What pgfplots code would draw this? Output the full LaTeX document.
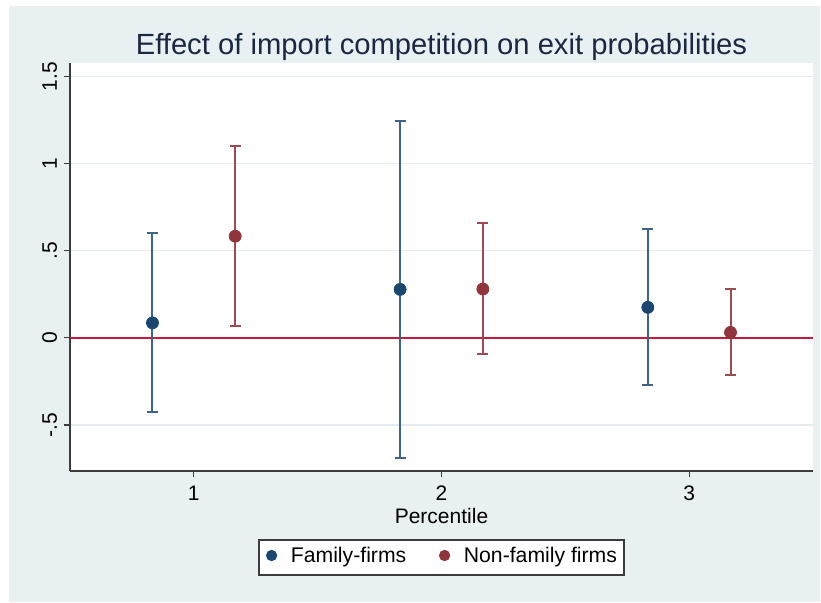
\documentclass[border=0pt]{standalone}
\usepackage{pgfplots}
\pgfplotsset{compat=1.18}
\usepackage{pgfplotstable}
\usepackage{fontspec}
\setmainfont{Liberation Sans}
\definecolor{bgcol}{RGB}{232,240,242}
\definecolor{gridcol}{RGB}{228,236,239}
\definecolor{famblue}{RGB}{26,71,111}
\definecolor{famci}{RGB}{62,100,138}
\definecolor{nonred}{RGB}{144,53,59}
\definecolor{nonci}{RGB}{158,74,80}
\definecolor{zerocol}{RGB}{200,25,60}
\definecolor{titlecol}{RGB}{28,40,65}
\definecolor{axcol}{RGB}{60,60,60}

\pgfplotstableread{
x y lo hi
0.833 0.086 -0.425 0.600
1.833 0.278 -0.687 1.247
2.833 0.175 -0.268 0.623
}\famtab

\pgfplotstableread{
x y lo hi
1.167 0.583 0.067 1.103
2.167 0.280 -0.095 0.657
3.167 0.031 -0.216 0.282
}\nontab

\begin{document}
\begin{tikzpicture}
\useasboundingbox (0bp,0bp) rectangle (410.5bp,301.5bp);
\fill[white] (0bp,0bp) rectangle (410.5bp,301.5bp);
\fill[bgcol] (4.5bp,0.5bp) rectangle (410bp,298.5bp);
\begin{axis}[
  at={(35bp,66bp)}, anchor=south west,
  scale only axis, width=371.5bp, height=204bp,
  xmin=0.5, xmax=3.5, ymin=-0.764, ymax=1.577,
  clip=false,
  axis background/.style={fill=white},
  axis x line*=bottom, axis y line*=left,
  axis line style={color=axcol, line width=0.6bp},
  xtick={1,2,3},
  ytick={-0.5,0,0.5,1,1.5},
  yticklabels={-.5,0,.5,1,1.5},
  tick align=outside,
  major tick length=3bp,
  major tick style={color=axcol, line width=0.6bp},
  /pgf/number format/assume math mode=true,
  tick label style={font=\fontsize{10.5bp}{12bp}\selectfont, color=black},
  yticklabel style={rotate=90, anchor=south},
  xticklabel style={yshift=-1bp},
  ymajorgrids,
  major grid style={color=gridcol, line width=0.8bp},
  xlabel={Percentile},
  xlabel style={at={(axis description cs:0.5,-0.1275)}, anchor=base, font=\fontsize{10.5bp}{12bp}\selectfont},
  legend columns=2,
  legend cell align=left,
  legend style={at={(axis description cs:0.5,-0.212)}, anchor=center,
    draw=axcol, line width=0.6bp, fill=white,
    font=\fontsize{10.6bp}{12bp}\selectfont,
    inner xsep=3.5bp, inner ysep=3.8bp,
    nodes={inner sep=0pt, text height=0.75em, text depth=0.25em},
    /tikz/every odd column/.append style={column sep=6.85bp},
    /tikz/every even column/.append style={column sep=16.35bp}},
]
\node[anchor=base, font=\fontsize{14.6bp}{17bp}\selectfont, color=titlecol, inner sep=0pt]
  at (axis description cs:0.5,1.0196) {Effect of import competition on exit probabilities};

\addplot[forget plot, color=zerocol, line width=1bp] coordinates {(0.5,0) (3.5,0)};

\addplot[forget plot, only marks, mark=*, mark size=3bp, mark options={fill=famblue, draw=famblue},
  error bars/.cd, y dir=both, y explicit, error mark=|,
  error bar style={line width=1bp, color=famci},
  error mark options={line width=1bp, color=famci, mark size=2.75bp}]
  table[x=x, y=y, y error plus expr=\thisrow{hi}-\thisrow{y}, y error minus expr=\thisrow{y}-\thisrow{lo}] {\famtab};

\addplot[forget plot, only marks, mark=*, mark size=3bp, mark options={fill=nonred, draw=nonred},
  error bars/.cd, y dir=both, y explicit, error mark=|,
  error bar style={line width=1bp, color=nonci},
  error mark options={line width=1bp, color=nonci, mark size=2.75bp}]
  table[x=x, y=y, y error plus expr=\thisrow{hi}-\thisrow{y}, y error minus expr=\thisrow{y}-\thisrow{lo}] {\nontab};

\addlegendimage{legend image code/.code={\fill[famblue] (0bp,1bp) circle (2.5bp);}}
\addlegendentry{Family-firms}
\addlegendimage{legend image code/.code={\fill[nonred] (0bp,1bp) circle (2.5bp);}}
\addlegendentry{Non-family firms}
\end{axis}
\end{tikzpicture}
\end{document}
